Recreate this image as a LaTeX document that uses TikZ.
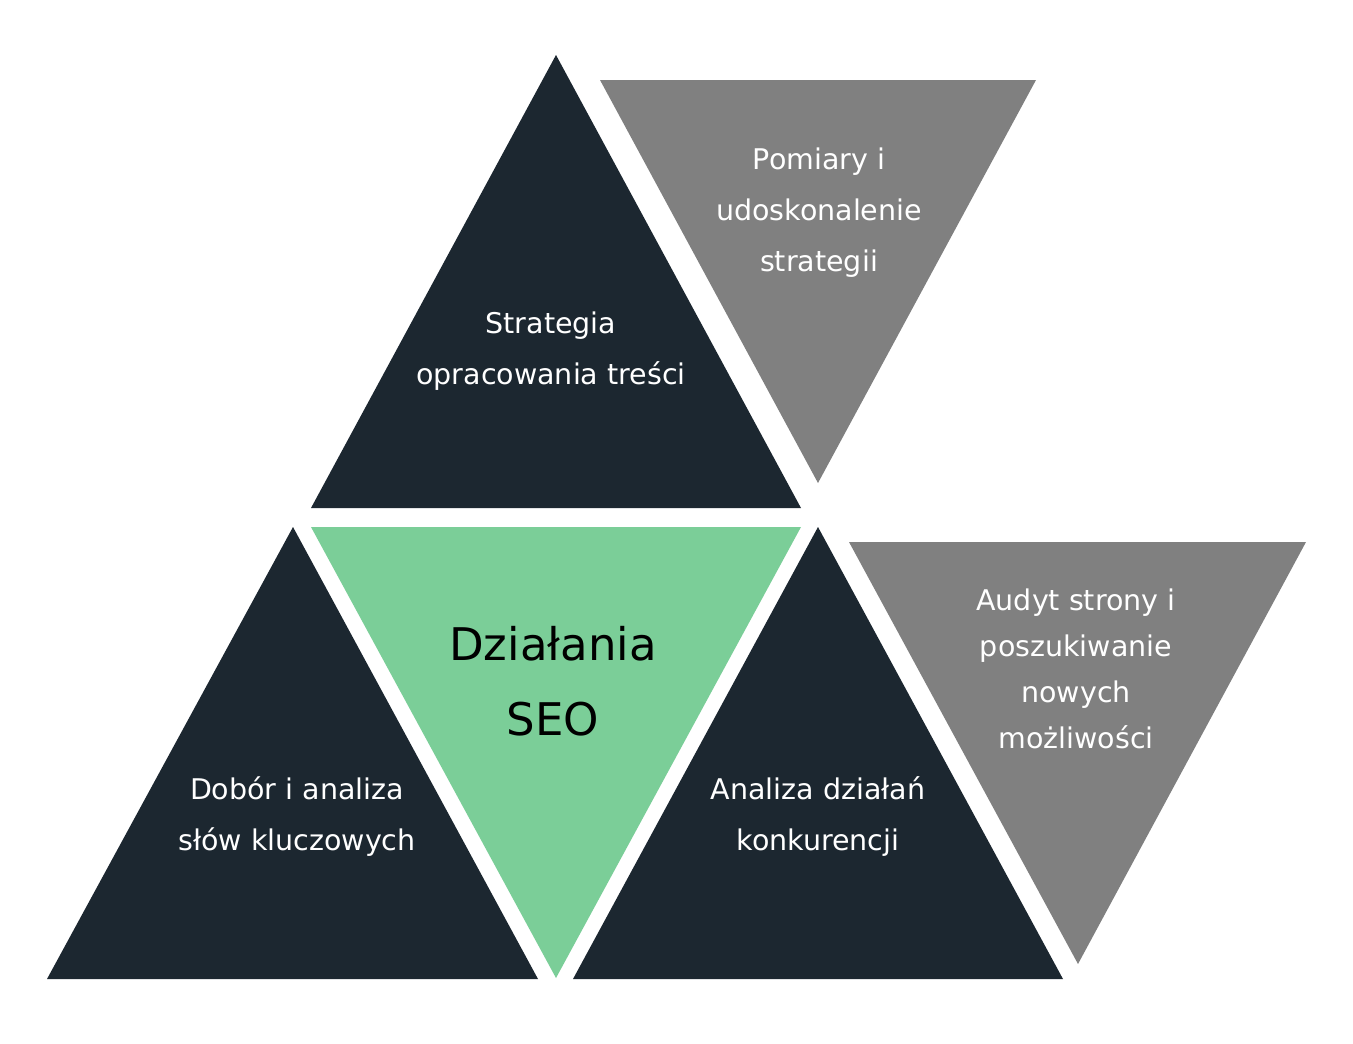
\documentclass[tikz,border=0pt]{standalone}
\usepackage{fontspec}
\setmainfont{DejaVu Sans}
\definecolor{darkt}{RGB}{28,39,48}
\definecolor{grayt}{RGB}{128,128,128}
\definecolor{greent}{RGB}{123,206,152}
\begin{document}
\begin{tikzpicture}[x=1pt,y=-1pt,
  lbl/.style={text=white, align=center, inner sep=0pt, font=\fontsize{28.5}{51}\selectfont},
  lblgray/.style={text=white, align=center, inner sep=0pt, font=\fontsize{28.5}{46}\selectfont},
  lblmain/.style={text=black, align=center, inner sep=0pt, font=\fontsize{45}{75}\selectfont}]
\useasboundingbox[fill=white] (0,0) rectangle (1353,1044);
% triangles
\fill[darkt] (556,55) -- (801,508) -- (311,508) -- cycle;
\fill[grayt] (600,80) -- (1036,80) -- (818,483) -- cycle;
\fill[greent] (311,527) -- (801,527) -- (556,978) -- cycle;
\fill[darkt] (293,527) -- (538,979) -- (47,979) -- cycle;
\fill[darkt] (818,527) -- (1063,979) -- (573,979) -- cycle;
\fill[grayt] (849,542) -- (1306,542) -- (1078,964) -- cycle;
% labels
\node[lbl] (strategia) at (551,351) {Strategia\\opracowania treści};
\node[lbl] (pomiary) at (819,213) {Pomiary i\\udoskonalenie\\strategii};
\node[lblmain] (seo) at (553,681) {Działania\\SEO};
\node[lbl] (dobor) at (297,817) {Dobór i analiza\\słów kluczowych};
\node[lbl] (analiza) at (818,817) {Analiza działań\\konkurencji};
\node[lblgray] (audyt) at (1076,669) {Audyt strony i\\poszukiwanie\\nowych\\możliwości};
\end{tikzpicture}
\end{document}
